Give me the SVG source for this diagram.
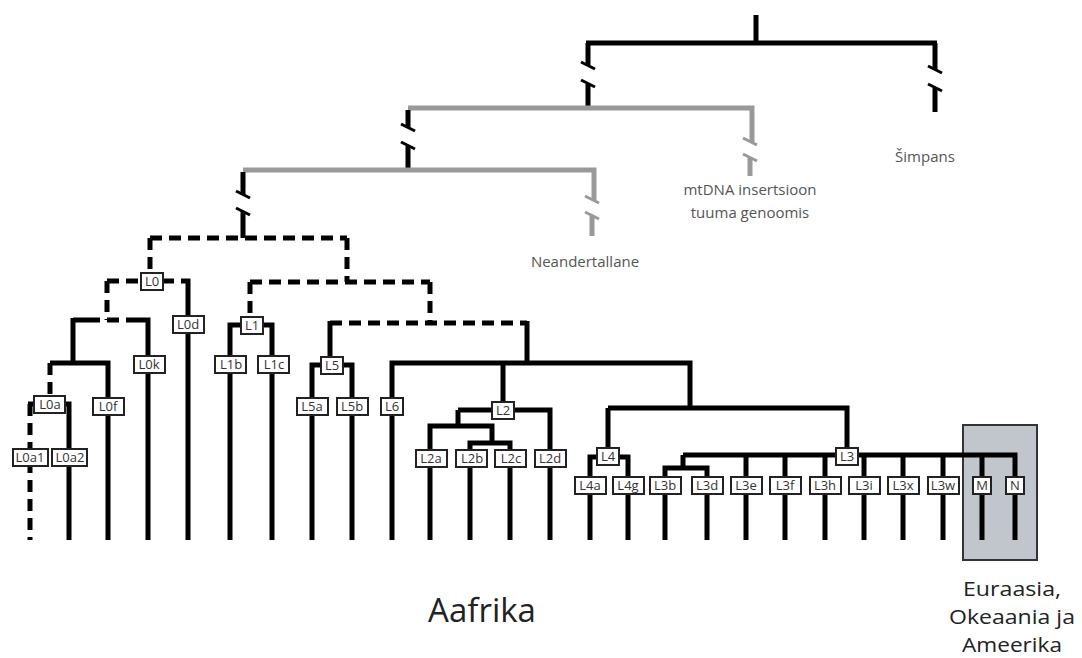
<svg xmlns="http://www.w3.org/2000/svg" width="1082" height="658" viewBox="0 0 1082 658">
<style>
.k{fill:none;stroke:#000;stroke-width:5}
.d{fill:none;stroke:#000;stroke-width:5;stroke-dasharray:12 7}
.g{fill:none;stroke:#999;stroke-width:5}
.s{stroke:#000;stroke-width:3}
.sg{stroke:#999;stroke-width:3}
.b{fill:#fff;stroke:#222;stroke-width:2}
.t{font-family:"Open Sans","Liberation Sans",sans-serif;font-size:13px;fill:#333;text-anchor:middle}
.lab{font-family:"Open Sans","Liberation Sans",sans-serif;font-size:15px;fill:#555;text-anchor:middle}
.big{font-family:"Open Sans","Liberation Sans",sans-serif;fill:#222;text-anchor:middle}
</style>
<rect x="963" y="425" width="74" height="135" fill="#c1c5cc" stroke="#333" stroke-width="2"/>
<g id="connectors">
<path class="k" d="M756,15V43M586,43H937M588,43V66M588,84V108M935,43V70M935,88V112"/>
<line class="s" x1="581" y1="62" x2="595" y2="69"/><line class="s" x1="581" y1="80" x2="595" y2="87"/>
<line class="s" x1="928" y1="66" x2="942" y2="73"/><line class="s" x1="928" y1="84" x2="942" y2="91"/>
<path class="g" d="M408,108H752V142M750,158V176"/>
<line class="sg" x1="743" y1="138" x2="757" y2="145"/><line class="sg" x1="743" y1="154" x2="757" y2="161"/>
<path class="k" d="M408,110V128M408,146V170"/>
<line class="s" x1="401" y1="124" x2="415" y2="131"/><line class="s" x1="401" y1="142" x2="415" y2="149"/>
<path class="g" d="M243,170H594V200M592,216V236"/>
<line class="sg" x1="585" y1="196" x2="599" y2="203"/><line class="sg" x1="585" y1="212" x2="599" y2="219"/>
<path class="k" d="M243,172V195M243,212V238"/>
<line class="s" x1="236" y1="191" x2="250" y2="198"/><line class="s" x1="236" y1="208" x2="250" y2="215"/>
<path class="d" d="M150,238H347M150,238V272M347,238V282M250,282H430M250,282V316M430,282V323M330,323H527"/>
<path class="k" d="M330,321V357M527,321V363"/>
<path class="d" d="M107,281H140M107,281V320M88,320H138"/>
<path class="k" d="M164,281H174M181,281H188V540M73,320H88M138,320H148V540M73,318V363M50,363H108V540"/>
<path class="d" d="M50,363V396M30,404V540"/>
<path class="k" d="M28,404H34M66,404H69V540"/>
<path class="k" d="M230,540V325H272V540M312,540V365H352V540"/>
<path class="k" d="M392,540V363H690V408M503,363V402M458,410H550V540M458,410V426M430,540V426H492V443M470,540V443H510V540"/>
<path class="k" d="M608,408H847V448M608,408V448M590,540V457H628V540"/>
<path class="k" d="M683,455H1015V540M683,455V468M665,540V468H707V540M746,455V540M785,455V540M825,455V540M864,455V540M903,455V540M943,455V540M982,455V540"/>
</g>
<g id="L0"><rect class="b" x="141" y="273" width="22" height="17"/><text class="t" x="152" y="286">L0</text></g>
<g id="L0d"><rect class="b" x="173" y="316" width="31" height="17"/><text class="t" x="188" y="329">L0d</text></g>
<g id="L0k"><rect class="b" x="134" y="356" width="31" height="17"/><text class="t" x="149" y="369">L0k</text></g>
<g id="L0f"><rect class="b" x="93" y="398" width="31" height="17"/><text class="t" x="108" y="411">L0f</text></g>
<g id="L0a"><rect class="b" x="34" y="396" width="31" height="17"/><text class="t" x="50" y="409">L0a</text></g>
<g id="L0a1"><rect class="b" x="13" y="449" width="35" height="17"/><text class="t" x="30" y="462">L0a1</text></g>
<g id="L0a2"><rect class="b" x="52" y="449" width="35" height="17"/><text class="t" x="70" y="462">L0a2</text></g>
<g id="L1"><rect class="b" x="241" y="317" width="22" height="17"/><text class="t" x="252" y="330">L1</text></g>
<g id="L1b"><rect class="b" x="215" y="356" width="31" height="17"/><text class="t" x="231" y="369">L1b</text></g>
<g id="L1c"><rect class="b" x="258" y="356" width="31" height="17"/><text class="t" x="274" y="369">L1c</text></g>
<g id="L5"><rect class="b" x="321" y="357" width="22" height="17"/><text class="t" x="332" y="370">L5</text></g>
<g id="L5a"><rect class="b" x="297" y="398" width="31" height="17"/><text class="t" x="312" y="411">L5a</text></g>
<g id="L5b"><rect class="b" x="337" y="398" width="31" height="17"/><text class="t" x="352" y="411">L5b</text></g>
<g id="L6"><rect class="b" x="381" y="398" width="22" height="17"/><text class="t" x="392" y="411">L6</text></g>
<g id="L2"><rect class="b" x="492" y="402" width="22" height="17"/><text class="t" x="503" y="415">L2</text></g>
<g id="L2a"><rect class="b" x="416" y="450" width="31" height="17"/><text class="t" x="431" y="463">L2a</text></g>
<g id="L2b"><rect class="b" x="456" y="450" width="31" height="17"/><text class="t" x="472" y="463">L2b</text></g>
<g id="L2c"><rect class="b" x="495" y="450" width="31" height="17"/><text class="t" x="511" y="463">L2c</text></g>
<g id="L2d"><rect class="b" x="535" y="450" width="31" height="17"/><text class="t" x="550" y="463">L2d</text></g>
<g id="L4"><rect class="b" x="597" y="448" width="22" height="17"/><text class="t" x="608" y="461">L4</text></g>
<g id="L4a"><rect class="b" x="575" y="477" width="31" height="17"/><text class="t" x="590" y="490">L4a</text></g>
<g id="L4g"><rect class="b" x="613" y="477" width="31" height="17"/><text class="t" x="628" y="490">L4g</text></g>
<g id="L3"><rect class="b" x="836" y="448" width="22" height="17"/><text class="t" x="847" y="461">L3</text></g>
<g id="L3b"><rect class="b" x="650" y="477" width="31" height="17"/><text class="t" x="665" y="490">L3b</text></g>
<g id="L3d"><rect class="b" x="692" y="477" width="31" height="17"/><text class="t" x="707" y="490">L3d</text></g>
<g id="L3e"><rect class="b" x="731" y="477" width="31" height="17"/><text class="t" x="746" y="490">L3e</text></g>
<g id="L3f"><rect class="b" x="770" y="477" width="31" height="17"/><text class="t" x="785" y="490">L3f</text></g>
<g id="L3h"><rect class="b" x="810" y="477" width="31" height="17"/><text class="t" x="825" y="490">L3h</text></g>
<g id="L3i"><rect class="b" x="849" y="477" width="31" height="17"/><text class="t" x="864" y="490">L3i</text></g>
<g id="L3x"><rect class="b" x="888" y="477" width="31" height="17"/><text class="t" x="903" y="490">L3x</text></g>
<g id="L3w"><rect class="b" x="928" y="477" width="31" height="17"/><text class="t" x="943" y="490">L3w</text></g>
<g id="M"><rect class="b" x="973" y="477" width="18" height="17"/><text class="t" x="982" y="490">M</text></g>
<g id="N"><rect class="b" x="1006" y="477" width="18" height="17"/><text class="t" x="1015" y="490">N</text></g>
<g id="labels">
<text class="lab" x="925" y="162">Šimpans</text>
<text class="lab" x="750" y="195" font-size="16">mtDNA insertsioon</text>
<text class="lab" x="750" y="218" font-size="16">tuuma genoomis</text>
<text class="lab" x="585" y="267">Neandertallane</text>
<text class="big" x="482" y="622" font-size="33">Aafrika</text>
<text class="big" x="1012" y="596" font-size="20" textLength="98" lengthAdjust="spacingAndGlyphs">Euraasia,</text>
<text class="big" x="1012" y="624" font-size="20" textLength="126" lengthAdjust="spacingAndGlyphs">Okeaania ja</text>
<text class="big" x="1012" y="652" font-size="20" textLength="100" lengthAdjust="spacingAndGlyphs">Ameerika</text>
</g>
</svg>
